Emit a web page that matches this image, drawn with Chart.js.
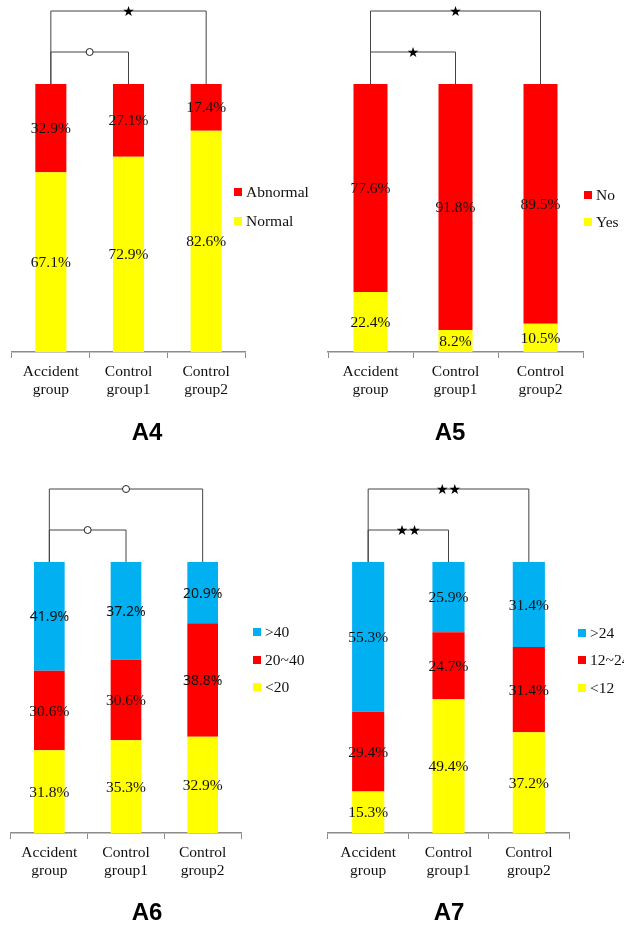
<!DOCTYPE html>
<html>
<head>
<meta charset="utf-8">
<script src="https://cdn.jsdelivr.net/npm/chart.js@4.4.1/dist/chart.umd.min.js"></script>
<style>
body{margin:0;background:#fff;width:624px;height:930px;position:relative;overflow:hidden}
canvas{position:absolute}
</style>
</head>
<body>
<canvas id="a4" width="312" height="465" style="left:0;top:0"></canvas>
<canvas id="a5" width="312" height="465" style="left:312px;top:0"></canvas>
<canvas id="a6" width="312" height="465" style="left:0;top:465px"></canvas>
<canvas id="a7" width="312" height="465" style="left:312px;top:465px"></canvas>
<script>
var groups = [['Accident','group'],['Control','group1'],['Control','group2']]

var a4Abnormal = [32.9, 27.1, 17.4]
var a4Normal = [67.1, 72.9, 82.6]

var a5No = [77.6, 91.8, 89.5]
var a5Yes = [22.4, 8.2, 10.5]

var a6Over40 = [41.9, 37.2, 20.9]
var a6Mid = [30.6, 30.6, 38.8]
var a6Under20 = [31.8, 35.3, 32.9]

var a7Over24 = [55.3, 25.9, 31.4]
var a7Mid = [29.4, 24.7, 31.4]
var a7Under12 = [15.3, 49.4, 37.2]

// brackets: [from bar, to bar, mark, level]  level 0 = lower, 1 = upper
var a4Sig = [[0,1,'o',0],[0,2,'*',1]]
var a5Sig = [[0,1,'*',0],[0,2,'*',1]]
var a6Sig = [[0,1,'o',0],[0,2,'o',1]]
var a7Sig = [[0,1,'**',0],[0,2,'**',1]]

var RED = '#FF0000', YELLOW = '#FFFF00', BLUE = '#00B0F0'

// each bar is a 100% stack, like the excel original
function share(list, i){
    var sum = 0
    for(var k=0;k<list.length;k++) sum += list[k][i]
    return sum
}
function makeSets(series){
    var all = series.map(function(s){ return s.data })
    return series.map(function(s){
        return {
            label: s.label,
            raw: s.data,
            data: s.data.map(function(v,i){ return v / share(all,i) * 100 }),
            backgroundColor: s.color,
            borderWidth: 0,
            categoryPercentage: 1,
            barPercentage: 0.4
        }
    })
}

function star(ctx, x, y, n){
    ctx.font = '14px "DejaVu Sans"'
    ctx.fillStyle = '#000'
    ctx.textAlign = 'center'
    ctx.textBaseline = 'middle'
    var s = ''
    for(var i=0;i<n;i++) s += '\u2605'
    ctx.fillText(s, x, y + 1)
}

var extras = {
    id: 'extras',
    afterDatasetsDraw: function(chart, args, opt){
        var ctx = chart.ctx
        var area = chart.chartArea
        var metas = chart.data.datasets.map(function(d,i){ return chart.getDatasetMeta(i) })

        // value labels
        chart.data.datasets.forEach(function(ds, di){
            metas[di].data.forEach(function(el, i){
                var sans = (opt.sans || []).some(function(p){ return p[0]==di && p[1]==i })
                ctx.font = sans ? '14px "Noto Sans"' : '15.5px "Liberation Serif"'
                ctx.fillStyle = '#111'
                ctx.textAlign = 'center'
                ctx.textBaseline = 'middle'
                ctx.fillText(ds.raw[i].toFixed(1) + '%', el.x, (el.y + el.base) / 2 + 1)
            })
        })

        // significance brackets
        var bars = metas[0].data
        ctx.save()
        ctx.strokeStyle = '#444'
        ctx.lineWidth = 1
        opt.sig.forEach(function(b){
            var x1 = bars[b[0]].x, x2 = bars[b[1]].x
            var y = area.top - (b[3] ? opt.upper : opt.lower)
            ctx.beginPath()
            ctx.moveTo(x1, area.top)
            ctx.lineTo(x1, y)
            ctx.lineTo(x2, y)
            ctx.lineTo(x2, area.top)
            ctx.stroke()
            var mx = (x1 + x2) / 2
            if(b[2] == 'o'){
                ctx.beginPath()
                ctx.arc(mx, y, 3.5, 0, Math.PI * 2)
                ctx.fillStyle = '#fff'
                ctx.fill()
                ctx.strokeStyle = '#222'
                ctx.stroke()
                ctx.strokeStyle = '#444'
            }
            else{
                star(ctx, mx, y, b[2].length)
            }
        })
        ctx.restore()

        // legend, top series first
        var n = chart.data.datasets.length
        for(var k=0;k<n;k++){
            var ds = chart.data.datasets[n - 1 - k]
            var ly = opt.legY[k]
            ctx.fillStyle = ds.backgroundColor
            ctx.fillRect(opt.legX, ly - 4, 8, 8)
            ctx.font = '15.5px "Liberation Serif"'
            ctx.fillStyle = '#111'
            ctx.textAlign = 'left'
            ctx.textBaseline = 'middle'
            ctx.fillText(ds.label, opt.legX + 12, ly + 1)
        }

        // panel name
        ctx.font = 'bold 24px "Liberation Sans"'
        ctx.fillStyle = '#000'
        ctx.textAlign = 'center'
        ctx.textBaseline = 'middle'
        ctx.fillText(opt.title, opt.titleX, opt.titleY)
    }
}

function panel(id, series, sig, pad, more){
    var opt = Object.assign({sig: sig, lower: 32, upper: 73}, more)
    return new Chart(document.getElementById(id), {
        type: 'bar',
        data: { labels: groups, datasets: makeSets(series) },
        options: {
            responsive: false,
            animation: false,
            layout: { padding: pad },
            plugins: {
                legend: { display: false },
                tooltip: { enabled: false },
                extras: opt
            },
            scales: {
                x: {
                    stacked: true,
                    border: { color: '#8c8c8c', width: 1.5 },
                    grid: { drawOnChartArea: false, tickLength: 6, color: '#8c8c8c', offset: true },
                    ticks: { color: '#111', font: { family: 'Liberation Serif', size: 15.5, lineHeight: 1.16 }, padding: 5, maxRotation: 0, autoSkip: false },
                    afterFit: function(s){ s.height = 50 }
                },
                y: { stacked: true, min: 0, max: 100, display: false }
            }
        },
        plugins: [extras]
    })
}

panel('a4', [
    {label: 'Normal', data: a4Normal, color: YELLOW},
    {label: 'Abnormal', data: a4Abnormal, color: RED}
], a4Sig, {left: 12, right: 67, top: 84, bottom: 63},
   {legX: 234, legY: [192, 221], title: 'A4', titleX: 147, titleY: 433})

panel('a5', [
    {label: 'Yes', data: a5Yes, color: YELLOW},
    {label: 'No', data: a5No, color: RED}
], a5Sig, {left: 16, right: 41, top: 84, bottom: 63},
   {legX: 272, legY: [195, 222], title: 'A5', titleX: 138, titleY: 433})

panel('a6', [
    {label: '<20', data: a6Under20, color: YELLOW},
    {label: '20~40', data: a6Mid, color: RED},
    {label: '>40', data: a6Over40, color: BLUE}
], a6Sig, {left: 11, right: 71, top: 97, bottom: 47},
   {legX: 253, legY: [167, 195, 222], title: 'A6', titleX: 147, titleY: 448,
    sans: [[2,0],[2,1],[2,2],[1,2]]})

panel('a7', [
    {label: '<12', data: a7Under12, color: YELLOW},
    {label: '12~24', data: a7Mid, color: RED},
    {label: '>24', data: a7Over24, color: BLUE}
], a7Sig, {left: 16, right: 55, top: 97, bottom: 47},
   {legX: 266, legY: [168, 195, 223], title: 'A7', titleX: 137, titleY: 448})
</script>
</body>
</html>
